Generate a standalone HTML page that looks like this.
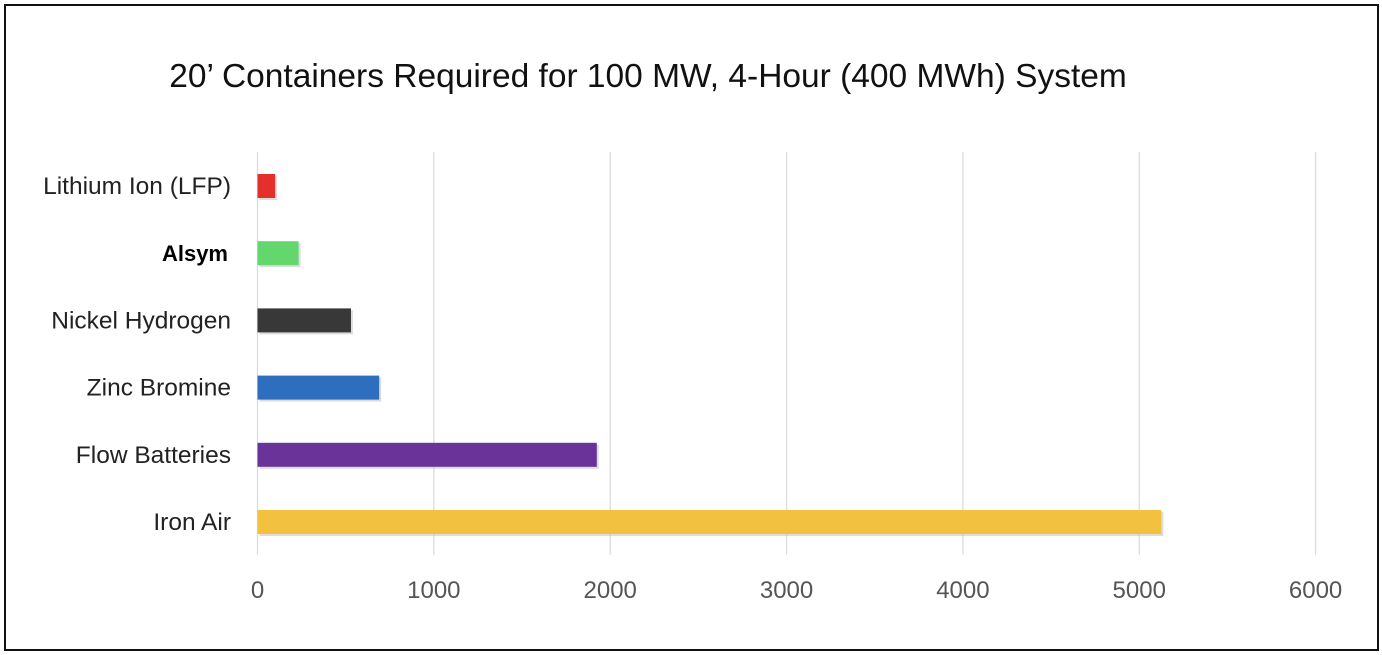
<!DOCTYPE html>
<html><head><meta charset="utf-8"><style>
body{margin:0;background:#fff;font-family:"Liberation Sans",sans-serif;}
#frame{position:absolute;left:4px;top:4px;width:1371px;height:643px;border:2px solid #111;box-sizing:content-box;}
</style></head><body>
<div id="frame"></div>
<svg id="chart" width="1382" height="655" style="position:absolute;left:0;top:0">
<text x="648" y="87" text-anchor="middle" font-size="33.5" fill="#111">20’ Containers Required for 100 MW, 4-Hour (400 MWh) System</text>
<g id="grid"></g><g id="bars"></g><g id="labels"></g><g id="ticks"></g>
</svg>
<script>
const categories=["Lithium Ion (LFP)","Alsym","Nickel Hydrogen","Zinc Bromine","Flow Batteries","Iron Air"];
const values=[100,233,530,690,1924,5125];
const colors=["#e3302a","#63d66e","#383838","#2e6ebf","#6a3399","#f2c140"];
const tickValues=[0,1000,2000,3000,4000,5000,6000];
const ns="http://www.w3.org/2000/svg";
const x0=257.5,pxPer=0.17635;
function xs(v){return x0+v*pxPer;}
function ys(i){return 174+i*67.2;}
const grid=document.getElementById('grid'),bars=document.getElementById('bars'),labels=document.getElementById('labels'),ticks=document.getElementById('ticks');
tickValues.forEach(t=>{
 const l=document.createElementNS(ns,'line');
 l.setAttribute('x1',xs(t));l.setAttribute('x2',xs(t));l.setAttribute('y1',152);l.setAttribute('y2',555);
 l.setAttribute('stroke','#dcdcdc');l.setAttribute('stroke-width','1.3');
 
 
 grid.appendChild(l);
 const tx=document.createElementNS(ns,'text');
 tx.setAttribute('x',xs(t));tx.setAttribute('y',598);tx.setAttribute('text-anchor','middle');
 tx.setAttribute('font-size','24');tx.setAttribute('fill','#555');tx.textContent=t;
 
 
 ticks.appendChild(tx);
});
categories.forEach((c,i)=>{
 const sh=document.createElementNS(ns,'rect');
 sh.setAttribute('x',xs(0)+2);sh.setAttribute('y',ys(i)+2);sh.setAttribute('width',xs(values[i])-xs(0));sh.setAttribute('height',24);
 sh.setAttribute('fill','#bbb');sh.setAttribute('opacity','0.5');
 
 
 bars.appendChild(sh);
 const r=document.createElementNS(ns,'rect');
 r.setAttribute('x',xs(0));r.setAttribute('y',ys(i));r.setAttribute('width',xs(values[i])-xs(0));r.setAttribute('height',24);
 r.setAttribute('fill',colors[i]);
 
 
 bars.appendChild(r);
 const t=document.createElementNS(ns,'text');
 t.setAttribute('x',231);t.setAttribute('y',ys(i)+20);t.setAttribute('text-anchor','end');
 t.setAttribute('font-size','24.5');t.setAttribute('fill','#222');
 if(c==='Alsym'){t.setAttribute('font-weight','bold');t.setAttribute('x',228);t.setAttribute('fill','#000');t.setAttribute('font-size','22');}
 t.textContent=c;
 
 
 labels.appendChild(t);
});
</script>
</body></html>
